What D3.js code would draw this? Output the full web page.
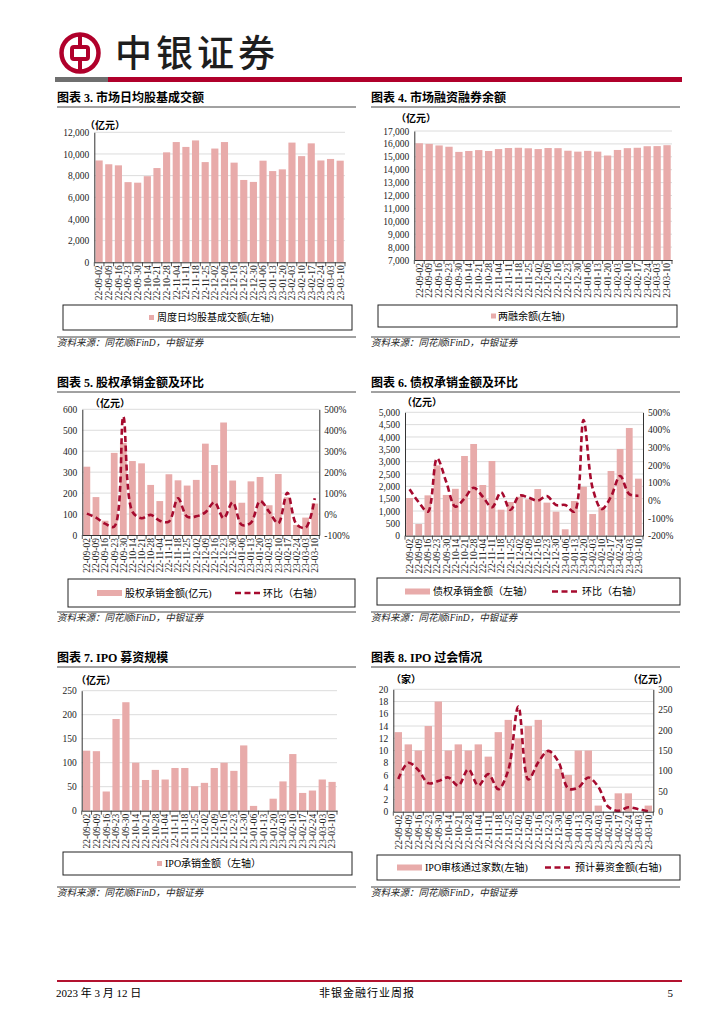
<!DOCTYPE html>
<html>
<head>
<meta charset="utf-8">
<script src="https://cdn.jsdelivr.net/npm/d3@7"></script>
<style>
body { margin: 0; background: #fff; }
text { font-family: "Liberation Serif", "Noto Sans CJK SC", serif; }
.cjk { font-family: "Liberation Serif", "Noto Sans CJK SC", sans-serif; }
.tick text { font-size: 9.5px; fill: #222; }
</style>
</head>
<body>
<div id="page"></div>
<script>
// 共用的周度日期
var dates = ["22-09-02","22-09-09","22-09-16","22-09-23","22-09-30","22-10-14","22-10-21","22-10-28","22-11-04","22-11-11","22-11-18","22-11-25","22-12-02","22-12-09","22-12-16","22-12-23","22-12-30","23-01-06","23-01-13","23-01-20","23-02-03","23-02-10","23-02-17","23-02-24","23-03-03","23-03-10"];

// 图表3 周度日均股基成交额(亿元)
var turnover = [9400,9050,8950,7400,7350,7950,8700,10150,11100,10650,11250,9250,10500,11100,9200,7600,7420,9380,8420,8580,11050,9800,10980,9400,9540,9380];
var turnoverTicks = [0,2000,4000,6000,8000,10000,12000];

// 图表4 两融余额(亿元)
var marginBal = [16050,16000,15880,15780,15380,15450,15520,15450,15600,15680,15700,15660,15600,15680,15670,15470,15400,15460,15400,15100,15530,15670,15700,15820,15830,15900];
var marginTicks = [7000,8000,9000,10000,11000,12000,13000,14000,15000,16000,17000];

// 图表5 股权承销金额(亿元) 及环比(%)
var equityAmt = [326,181,68,392,440,353,342,239,162,290,261,236,263,436,334,537,260,154,256,277,142,291,180,48,83,150];
var equityQoq = [2,-17,-46,-60,465,11,-20,-4,-32,-36,75,-12,-11,8,56,-20,56,-52,-41,62,11,-44,102,-49,-65,75];
var equityTicks = [0,100,200,300,400,500,600];
var equityPctTicks = [-100,0,100,200,300,400,500];

// 图表6 债权承销金额(亿元) 及环比(%)
var bondAmt = [1527,473,1635,2850,1650,1900,3230,3716,2054,3027,1054,1365,1580,1475,1890,1340,973,260,1405,1985,878,1150,2622,3514,4365,2311];
var bondQoq = [63,-10,-64,239,106,-35,12,72,21,-39,46,-54,27,16,-1,25,-26,-26,-64,456,69,-49,21,139,36,27];
var bondTicks = [0,500,1000,1500,2000,2500,3000,3500,4000,4500,5000];
var bondPctTicks = [-200,-100,0,100,200,300,400,500];

// 图表7 IPO承销金额(亿元)
var ipoAmt = [125,124,40,191,226,100,64,85,65,89,89,51,58,89,100,83,136,10,0,25,61,118,37,42,65,60];
var ipoTicks = [0,50,100,150,200,250];

// 图表8 IPO审核通过家数 及 预计募资金额(亿元)
var ipoCount = [13,11,10,14,18,10,11,10,11,9,13,15,12,14,15,10,7,6,10,10,1,0,3,3,0,1];
var ipoRaise = [80,120,102,70,75,84,64,104,64,92,55,102,258,79,121,149,123,57,59,84,61,12,2,11,6,1];
var countTicks = [0,2,4,6,8,10,12,14,16,18,20];
var raiseTicks = [0,50,100,150,200,250,300];

var barColor = "#e8abaa";
var lineColor = "#a60a2e";
var brandRed = "#b0002b";

var width = 724, height = 1024;
var svg = d3.select("#page").append("svg")
  .attr("width", width).attr("height", height);

// ---- 页眉 ----
var logo = svg.append("g").attr("transform", "translate(80,53)");
logo.append("circle").attr("r", 18.5).attr("fill", "none").attr("stroke", brandRed).attr("stroke-width", 4.5);
logo.append("rect").attr("x", -8).attr("y", -6).attr("width", 16).attr("height", 12).attr("rx", 2)
  .attr("fill", "none").attr("stroke", brandRed).attr("stroke-width", 4);
logo.append("line").attr("x1", 0).attr("x2", 0).attr("y1", -17).attr("y2", -6).attr("stroke", brandRed).attr("stroke-width", 4);
logo.append("line").attr("x1", 0).attr("x2", 0).attr("y1", 6).attr("y2", 17).attr("stroke", brandRed).attr("stroke-width", 4);

svg.append("text").attr("class", "cjk").attr("x", 115).attr("y", 67)
  .style("font-family", "'Noto Sans CJK SC'").style("font-size", "37px").style("font-weight", 500)
  .style("letter-spacing", "4px").attr("fill", "#1e1e1e").text("中银证券");

svg.append("rect").attr("x", 55).attr("y", 77).attr("width", 53).attr("height", 5).attr("fill", "#6f6f6f");
svg.append("rect").attr("x", 108).attr("y", 77).attr("width", 574).attr("height", 5).attr("fill", brandRed);

// ---- 页脚 ----
svg.append("rect").attr("x", 57).attr("y", 980).attr("width", 625).attr("height", 2).attr("fill", "#b3122f");
svg.append("text").attr("x", 56).attr("y", 997).style("font-size", "11px").text("2023 年 3 月 12 日");
svg.append("text").attr("x", 367).attr("y", 997).attr("text-anchor", "middle").style("font-size", "11px")
  .style("letter-spacing", "1px").text("非银金融行业周报");
svg.append("text").attr("x", 673).attr("y", 997).attr("text-anchor", "end").style("font-size", "11px").text("5");

function fmtComma(d) { return d3.format(",")(d); }
function fmtPct(d) { return d + "%"; }

function drawChart(c) {
  var g = svg.append("g");

  // 标题及下划线
  g.append("text").attr("x", c.x0).attr("y", c.titleY + 4)
    .style("font-size", "12px").style("font-weight", "bold").text(c.title);
  g.append("line").attr("x1", c.x0).attr("x2", c.x1).attr("y1", c.titleY + 9).attr("y2", c.titleY + 9)
    .attr("stroke", "#444").attr("stroke-width", 1);

  var x = d3.scaleBand().domain(dates).range([c.left, c.right]).paddingInner(0.26).paddingOuter(0.13);
  var y = d3.scaleLinear().domain([c.ticks[0], c.ticks[c.ticks.length - 1]]).range([c.bottom, c.top]);

  // 网格线
  g.append("g").selectAll("line").data(c.ticks.slice(1)).enter().append("line")
    .attr("x1", c.left).attr("x2", c.right)
    .attr("y1", function(d){ return y(d); }).attr("y2", function(d){ return y(d); })
    .attr("stroke", "#dcdcdc").attr("stroke-width", 1);

  // 柱
  g.append("g").selectAll("rect").data(c.bars).enter().append("rect")
    .attr("x", function(d, i){ return x(dates[i]); })
    .attr("width", x.bandwidth())
    .attr("y", function(d){ return y(Math.max(d, c.ticks[0])); })
    .attr("height", function(d){ return c.bottom - y(Math.max(d, c.ticks[0])); })
    .attr("fill", barColor);

  // 左轴
  var yAxis = d3.axisLeft(y).tickValues(c.ticks).tickSize(0).tickPadding(5).tickFormat(c.fmt);
  var ya = g.append("g").attr("transform", "translate(" + c.left + ",0)").call(yAxis);
  ya.select(".domain").attr("stroke", "#333");

  // 右轴与折线
  if (c.line) {
    var y2 = d3.scaleLinear().domain([c.ticks2[0], c.ticks2[c.ticks2.length - 1]]).range([c.bottom, c.top]);
    var yAxis2 = d3.axisRight(y2).tickValues(c.ticks2).tickSize(0).tickPadding(5).tickFormat(c.fmt2);
    var ya2 = g.append("g").attr("transform", "translate(" + c.right + ",0)").call(yAxis2);
    ya2.select(".domain").attr("stroke", "#333");

    var lineGen = d3.line()
      .x(function(d, i){ return x(dates[i]) + x.bandwidth() / 2; })
      .y(function(d){ return y2(d); })
      .curve(d3.curveCatmullRom.alpha(0.5));
    g.append("path").datum(c.line).attr("d", lineGen)
      .attr("fill", "none").attr("stroke", lineColor).attr("stroke-width", 2.6)
      .attr("stroke-dasharray", "6,3.5");
  }

  // 底轴
  var xAxis = d3.axisBottom(x).tickSize(0).tickPadding(0);
  var xa = g.append("g").attr("transform", "translate(0," + c.bottom + ")").call(xAxis);
  xa.select(".domain").attr("stroke", "#333");
  xa.selectAll("text")
    .attr("transform", "rotate(-90)")
    .attr("text-anchor", "end")
    .attr("x", -3).attr("y", 0).attr("dy", "0.35em");
  // 类别分隔刻度
  g.append("g").selectAll("line").data(d3.range(dates.length + 1)).enter().append("line")
    .attr("x1", function(i){ return c.left + i * (c.right - c.left) / dates.length; })
    .attr("x2", function(i){ return c.left + i * (c.right - c.left) / dates.length; })
    .attr("y1", c.bottom).attr("y2", c.bottom + 4)
    .attr("stroke", "#333").attr("stroke-width", 0.8);

  // 单位
  c.units.forEach(function(u){
    g.append("text").attr("x", u.x).attr("y", c.unitY).attr("dy", "0.35em")
      .style("font-size", "10px").style("font-weight", "bold").text(u.t);
  });

  // 图例
  g.append("rect").attr("x", c.leg.x0).attr("y", c.leg.y0).attr("width", c.leg.x1 - c.leg.x0)
    .attr("height", c.leg.h).attr("fill", "none").attr("stroke", "#222").attr("stroke-width", 1);
  var ly = c.leg.y0 + c.leg.h / 2;
  if (c.leg.wide) {
    g.append("rect").attr("x", c.leg.sx).attr("y", ly - 3).attr("width", 25).attr("height", 6).attr("fill", barColor);
  } else {
    g.append("rect").attr("x", c.leg.sx).attr("y", ly - 2.5).attr("width", 5).attr("height", 5).attr("fill", barColor);
  }
  g.append("text").attr("x", c.leg.tx).attr("y", ly).attr("dy", "0.35em")
    .style("font-size", "10px").text(c.leg.label);
  if (c.leg.lx) {
    g.append("line").attr("x1", c.leg.lx).attr("x2", c.leg.lx + 25).attr("y1", ly).attr("y2", ly)
      .attr("stroke", lineColor).attr("stroke-width", 2.6).attr("stroke-dasharray", "6,3.5");
    g.append("text").attr("x", c.leg.ltx).attr("y", ly).attr("dy", "0.35em")
      .style("font-size", "10px").text(c.leg.label2);
  }

  // 资料来源
  g.append("line").attr("x1", c.x0).attr("x2", c.x1).attr("y1", c.srcY - 6).attr("y2", c.srcY - 6)
    .attr("stroke", "#444").attr("stroke-width", 1);
  g.append("text").attr("x", c.x0).attr("y", c.srcY).attr("dy", "0.35em")
    .style("font-size", "9.5px").style("font-style", "italic").attr("fill", "#222")
    .text("资料来源：同花顺iFinD，中银证券");
}

drawChart({
  title: "图表 3. 市场日均股基成交额", x0: 57, x1: 356, titleY: 98,
  left: 94.3, right: 345, top: 132.3, bottom: 262.3,
  bars: turnover, ticks: turnoverTicks, fmt: fmtComma,
  unitY: 125, units: [{x: 85, t: "（亿元）"}],
  leg: {x0: 63, x1: 352, y0: 305, h: 25, sx: 149, tx: 157, label: "周度日均股基成交额(左轴)"},
  srcY: 343
});

drawChart({
  title: "图表 4. 市场融资融券余额", x0: 371, x1: 680, titleY: 98,
  left: 414.3, right: 672, top: 131, bottom: 260,
  bars: marginBal, ticks: marginTicks, fmt: fmtComma,
  unitY: 118, units: [{x: 396, t: "（亿元）"}],
  leg: {x0: 378, x1: 677, y0: 305, h: 22, sx: 491, tx: 498, label: "两融余额(左轴)"},
  srcY: 343
});

drawChart({
  title: "图表 5. 股权承销金额及环比", x0: 57, x1: 356, titleY: 383,
  left: 82.3, right: 319.3, top: 409.3, bottom: 535,
  bars: equityAmt, ticks: equityTicks, fmt: function(d){ return d; },
  line: equityQoq, ticks2: equityPctTicks, fmt2: fmtPct,
  unitY: 403, units: [{x: 90, t: "（亿元）"}],
  leg: {x0: 68, x1: 355, y0: 579, h: 28, wide: true, sx: 97, tx: 125, label: "股权承销金额(亿元)", lx: 235, ltx: 263, label2: "环比（右轴）"},
  srcY: 618
});

drawChart({
  title: "图表 6. 债权承销金额及环比", x0: 371, x1: 680, titleY: 383,
  left: 405, right: 643, top: 412.3, bottom: 535.7,
  bars: bondAmt, ticks: bondTicks, fmt: fmtComma,
  line: bondQoq, ticks2: bondPctTicks, fmt2: fmtPct,
  unitY: 402, units: [{x: 402, t: "（亿元）"}],
  leg: {x0: 377, x1: 680, y0: 578, h: 27, wide: true, sx: 405, tx: 433, label: "债权承销金额（左轴）", lx: 552, ltx: 582, label2: "环比（右轴）"},
  srcY: 618
});

drawChart({
  title: "图表 7. IPO 募资规模", x0: 57, x1: 356, titleY: 658,
  left: 81.7, right: 337, top: 690.7, bottom: 810.7,
  bars: ipoAmt, ticks: ipoTicks, fmt: function(d){ return d; },
  unitY: 680, units: [{x: 76, t: "（亿元）"}],
  leg: {x0: 63, x1: 352, y0: 852, h: 23, sx: 157, tx: 165, label: "IPO承销金额（左轴）"},
  srcY: 893
});

drawChart({
  title: "图表 8. IPO 过会情况", x0: 371, x1: 680, titleY: 658,
  left: 393.3, right: 653.3, top: 689.3, bottom: 811.7,
  bars: ipoCount, ticks: countTicks, fmt: function(d){ return d; },
  line: ipoRaise, ticks2: raiseTicks, fmt2: function(d){ return d; },
  unitY: 679, units: [{x: 391, t: "（家）"}, {x: 628, t: "（亿元）"}],
  leg: {x0: 377, x1: 680, y0: 855, h: 25, wide: true, sx: 397, tx: 425, label: "IPO审核通过家数(左轴)", lx: 545, ltx: 575, label2: "预计募资金额(右轴)"},
  srcY: 893
});
</script>
</body>
</html>
